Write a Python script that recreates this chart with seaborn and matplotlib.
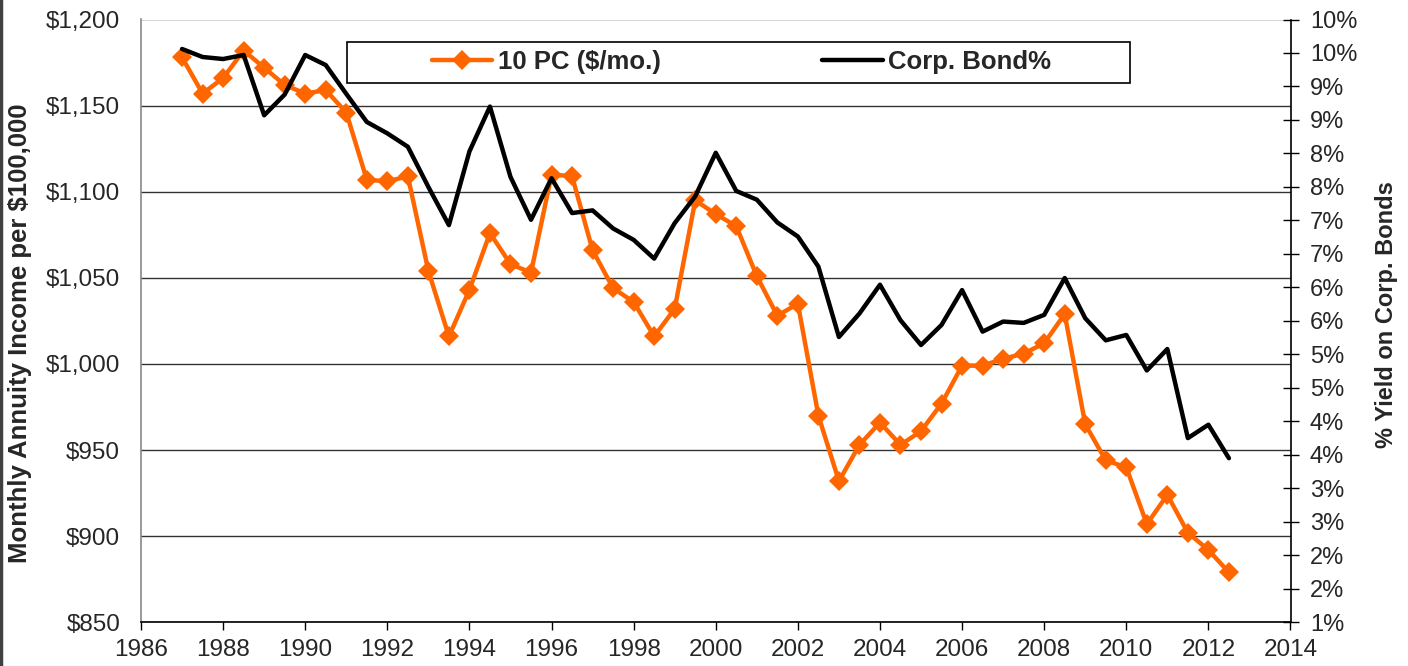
import matplotlib
matplotlib.use('Agg')
import matplotlib.pyplot as plt
from matplotlib.lines import Line2D
from matplotlib.patches import Rectangle
import seaborn as sns

# half-year points, 1987.0 .. 2012.5
years = [1987.0, 1987.5, 1988.0, 1988.5, 1989.0, 1989.5, 1990.0, 1990.5,
         1991.0, 1991.5, 1992.0, 1992.5, 1993.0, 1993.5, 1994.0, 1994.5,
         1995.0, 1995.5, 1996.0, 1996.5, 1997.0, 1997.5, 1998.0, 1998.5,
         1999.0, 1999.5, 2000.0, 2000.5, 2001.0, 2001.5, 2002.0, 2002.5,
         2003.0, 2003.5, 2004.0, 2004.5, 2005.0, 2005.5, 2006.0, 2006.5,
         2007.0, 2007.5, 2008.0, 2008.5, 2009.0, 2009.5, 2010.0, 2010.5,
         2011.0, 2011.5, 2012.0, 2012.5]

# 10 PC monthly annuity income ($ per $100,000)
annuity = [1178, 1157, 1166, 1182, 1172, 1162, 1157, 1159,
           1146, 1107, 1106, 1109, 1054, 1016, 1043, 1076,
           1058, 1053, 1110, 1109, 1066, 1044, 1036, 1016,
           1032, 1095, 1087, 1080, 1051, 1028, 1035, 970,
           932, 953, 966, 953, 961, 977, 999, 999,
           1003, 1006, 1012, 1029, 965, 944, 940, 907,
           924, 902, 892, 879]

# corporate bond yield (%)
bond_yield = [9.56, 9.44, 9.41, 9.47, 8.57, 8.88, 9.47, 9.32,
              8.89, 8.47, 8.30, 8.10, 7.50, 6.93, 8.03, 8.70,
              7.65, 7.01, 7.63, 7.11, 7.15, 6.88, 6.71, 6.43,
              6.96, 7.36, 8.01, 7.44, 7.31, 6.97, 6.76, 6.31,
              5.26, 5.61, 6.04, 5.51, 5.14, 5.44, 5.96, 5.34,
              5.49, 5.47, 5.59, 6.14, 5.54, 5.21, 5.29, 4.76,
              5.08, 3.75, 3.95, 3.45]

x_ticks = [1986, 1988, 1990, 1992, 1994, 1996, 1998, 2000,
           2002, 2004, 2006, 2008, 2010, 2012, 2014]
x_labels = [str(t) for t in x_ticks]

left_ticks = [850, 900, 950, 1000, 1050, 1100, 1150, 1200]
left_labels = ['$850', '$900', '$950', '$1,000', '$1,050', '$1,100', '$1,150', '$1,200']

right_ticks = [1.0, 1.5, 2.0, 2.5, 3.0, 3.5, 4.0, 4.5, 5.0, 5.5,
               6.0, 6.5, 7.0, 7.5, 8.0, 8.5, 9.0, 9.5, 10.0]
right_labels = ['1%', '2%', '2%', '3%', '3%', '4%', '4%', '5%', '5%', '6%',
                '6%', '7%', '7%', '8%', '8%', '9%', '9%', '10%', '10%']

ORANGE = '#FF6600'

sns.set_style('white')
plt.rcParams['font.family'] = ['Liberation Sans', 'DejaVu Sans']

fig = plt.figure(figsize=(14.08, 6.66), dpi=100)
ax = fig.add_axes([141 / 1408, 1 - 622.3 / 666, 1149.5 / 1408, 602.8 / 666])
ax2 = ax.twinx()

sns.lineplot(x=years, y=annuity, ax=ax, color=ORANGE, linewidth=3.2,
             marker='D', markersize=10.5, markeredgewidth=0, legend=False)
sns.lineplot(x=years, y=bond_yield, ax=ax2, color='black', linewidth=3.2,
             legend=False)

# left axis
ax.set_xlim(1986, 2014)
ax.set_ylim(850, 1200)
ax.set_xticks(x_ticks)
ax.set_xticklabels(x_labels)
ax.set_yticks(left_ticks)
ax.set_yticklabels(left_labels)
ax.grid(axis='y', color='#333333', linewidth=1)
ax.grid(axis='x', visible=False)
ax.set_axisbelow(True)
ax.tick_params(axis='y', length=0, pad=15, labelsize=17.5)
ax.tick_params(axis='x', direction='out', length=6, width=1, pad=6,
               labelsize=17.5, bottom=True, color='black')
ax.spines['left'].set_color('#888888')
ax.spines['left'].set_linewidth(1.2)
ax.spines['bottom'].set_color('black')
ax.spines['bottom'].set_linewidth(1.2)
ax.spines['top'].set_visible(False)
ax.spines['right'].set_visible(False)
ax.set_ylabel('Monthly Annuity Income per $100,000', fontsize=18.5, fontweight='bold')
ax.yaxis.set_label_coords((32 - 141) / 1149.5, (622.3 - 333) / 602.8)

# right axis
ax2.set_ylim(1, 10)
ax2.set_yticks(right_ticks)
ax2.set_yticklabels(right_labels)
ax2.tick_params(axis='y', direction='inout', length=12, width=1, pad=8,
                labelsize=17, right=True, color='black')
for s in ['left', 'top', 'bottom']:
    ax2.spines[s].set_visible(False)
ax2.spines['right'].set_color('black')
ax2.spines['right'].set_linewidth(1.2)
ax2.set_ylabel('% Yield on Corp. Bonds', fontsize=17, fontweight='bold')
ax2.yaxis.set_label_coords((1375 - 141) / 1149.5, (622.3 - 315) / 602.8)

# legend box
handles = [Line2D([], [], color=ORANGE, linewidth=3.2, marker='D',
                  markersize=10.5, markeredgewidth=0),
           Line2D([], [], color='black', linewidth=3.2)]
fig.legend(handles, ['10 PC ($/mo.)', 'Corp. Bond%'], loc='center',
           bbox_to_anchor=(741.5 / 1408, 1 - 62 / 666), ncol=2, frameon=False,
           prop={'weight': 'bold', 'size': 18.5}, handlelength=2.35,
           handletextpad=0.2, columnspacing=6.3, numpoints=1)
fig.add_artist(Rectangle((347 / 1408, 1 - 83 / 666), 783 / 1408, 41.5 / 666,
                         transform=fig.transFigure, facecolor='none',
                         edgecolor='black', linewidth=1.2))

# dark frame edge on the left
fig.add_artist(Line2D([1 / 1408, 1 / 1408], [0, 1], transform=fig.transFigure,
                      color='#404040', linewidth=2.5))

fig.savefig('out.png', dpi=100)
